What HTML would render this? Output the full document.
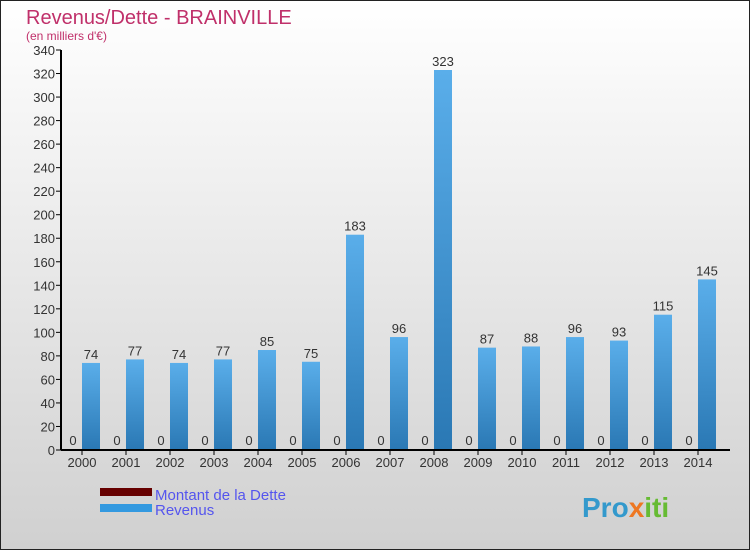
<!DOCTYPE html>
<html><head><meta charset="utf-8"><style>
body{margin:0;}
#wrap{width:750px;height:550px;position:relative;font-family:"Liberation Sans",sans-serif;}
</style></head><body>
<div id="wrap">
<svg id="svg" width="750" height="550" xmlns="http://www.w3.org/2000/svg">
<defs>
<linearGradient id="bg" x1="0" y1="0" x2="0" y2="1"><stop offset="0" stop-color="#ffffff"/><stop offset="1" stop-color="#d0d0d0"/></linearGradient>
<linearGradient id="rev" x1="0" y1="0" x2="0" y2="1"><stop offset="0" stop-color="#5aaeea"/><stop offset="1" stop-color="#2a78b4"/></linearGradient>
</defs>
<rect x="0.5" y="0.5" width="749" height="549" fill="url(#bg)" stroke="#222"/>
<text x="26" y="24" font-size="20" fill="#c0306a">Revenus/Dette - BRAINVILLE</text>
<text x="26" y="40" font-size="12" fill="#c0306a">(en milliers d'€)</text>
<g id="plot"></g>
<rect x="100" y="488" width="52" height="8" fill="#660000"/>
<text x="155" y="500" font-size="15" fill="#5555ee">Montant de la Dette</text>
<rect x="100" y="504" width="52" height="8" fill="#3399e0"/>
<text x="155" y="515" font-size="15" fill="#5555ee">Revenus</text>
<text x="582" y="517" font-size="28" font-weight="bold" fill="#3399cc">Pro<tspan fill="#ee7722">x</tspan><tspan fill="#66bb33">iti</tspan></text>
</svg>
</div>
<script>
const years=["2000","2001","2002","2003","2004","2005","2006","2007","2008","2009","2010","2011","2012","2013","2014"];
const dette=[0,0,0,0,0,0,0,0,0,0,0,0,0,0,0];
const revenus=[74,77,74,77,85,75,183,96,323,87,88,96,93,115,145];
const yTicks=[0,20,40,60,80,100,120,140,160,180,200,220,240,260,280,300,320,340];
const NS="http://www.w3.org/2000/svg";
const g=document.getElementById('plot');
const x0=62,gw=44,yBase=450,yMax=340,yTop=50;
const y=v=>yBase-(v/yMax)*(yBase-yTop);
const gx=i=>x0+i*gw;
function mk(t,a){const e=document.createElementNS(NS,t);for(const k in a)e.setAttribute(k,a[k]);g.appendChild(e);return e;}
yTicks.forEach(v=>{
 const l=mk('line',{x1:56,x2:61,y1:y(v),y2:y(v),stroke:'#000'});
 
 
 const t=mk('text',{x:55,y:y(v)+5,'font-size':13,'text-anchor':'end',fill:'#333'});
 t.textContent=v;
 
 
});
years.forEach((yr,i)=>{
 const bx=gx(i);
 const d=mk('rect',{x:bx+2,y:y(dette[i])-1,width:18,height:yBase-y(dette[i])+1,fill:'#7a1010'});
 
 
 const dl=mk('text',{x:bx+11,y:y(dette[i])-5,'font-size':13,'text-anchor':'middle',fill:'#333'});
 dl.textContent=dette[i];
 
 
 const r=mk('rect',{x:bx+20,y:y(revenus[i]),width:18,height:yBase-y(revenus[i]),fill:'url(#rev)'});
 
 
 const rl=mk('text',{x:bx+29,y:y(revenus[i])-4,'font-size':13,'text-anchor':'middle',fill:'#333'});
 rl.textContent=revenus[i];
 
 
 const tk=mk('line',{x1:bx+20,x2:bx+20,y1:450,y2:455,stroke:'#000'});
 
 
 const xl=mk('text',{x:bx+20,y:467,'font-size':13,'text-anchor':'middle',fill:'#333'});
 xl.textContent=yr;
 
 
});
const ax=mk('line',{x1:61,x2:61,y1:yTop,y2:yBase,stroke:'#000','stroke-width':2});


const bx=mk('line',{x1:61,x2:730,y1:yBase,y2:yBase,stroke:'#000','stroke-width':2});


</script>
</body></html>
